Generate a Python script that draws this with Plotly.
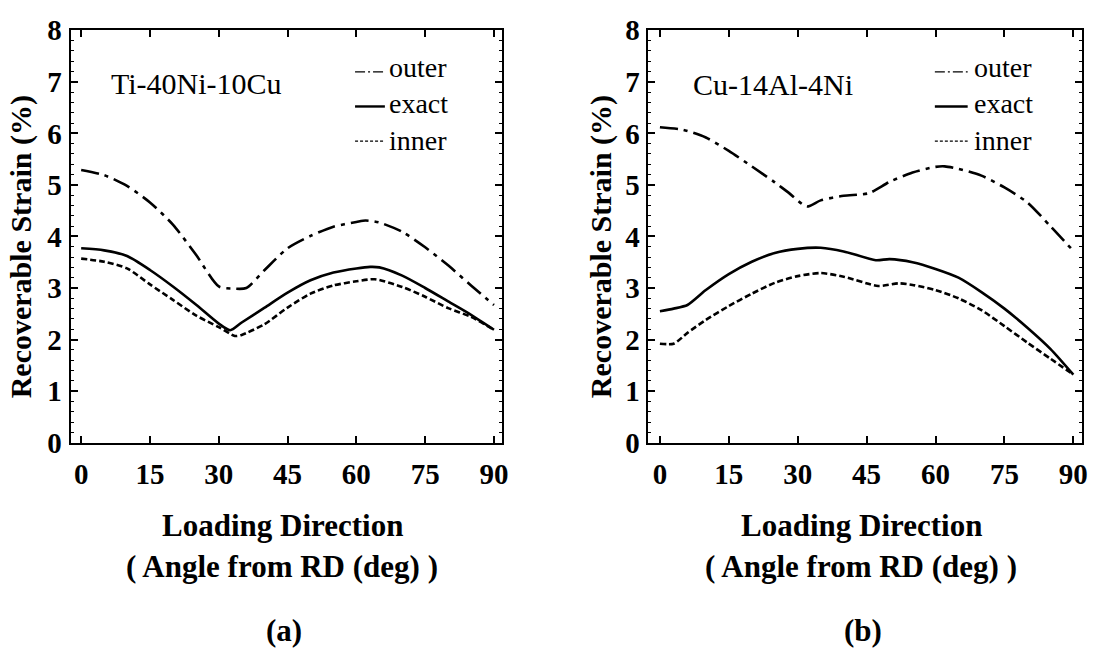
import plotly.graph_objects as go

# ---- data: recoverable strain (%) vs. loading direction (deg from RD) ----
angle_ti_outer = [0, 5, 10, 15, 20, 25, 30, 33, 36, 40, 45, 50, 55, 60, 62, 65, 70, 75, 80, 85, 90]
strain_ti_outer = [5.29, 5.19, 4.98, 4.66, 4.23, 3.65, 3.03, 2.99, 3.00, 3.35, 3.77, 4.01, 4.19, 4.28,
                   4.31, 4.27, 4.09, 3.79, 3.44, 3.05, 2.67]

angle_ti_exact = [0, 5, 10, 15, 20, 25, 30, 32.5, 35, 40, 45, 50, 55, 60, 63, 65, 70, 75, 80, 85, 90]
strain_ti_exact = [3.77, 3.73, 3.62, 3.35, 3.03, 2.68, 2.31, 2.18, 2.33, 2.62, 2.91, 3.15, 3.30, 3.38,
                   3.41, 3.40, 3.24, 3.00, 2.74, 2.48, 2.19]

angle_ti_inner = [0, 5, 10, 15, 20, 25, 30, 33.5, 35, 40, 45, 50, 55, 60, 64, 70, 75, 80, 85, 90]
strain_ti_inner = [3.57, 3.51, 3.38, 3.07, 2.77, 2.47, 2.24, 2.07, 2.09, 2.30, 2.62, 2.89, 3.05, 3.13,
                   3.17, 3.02, 2.83, 2.61, 2.44, 2.19]

angle_cu_outer = [0, 5, 10, 15, 20, 25, 28, 32, 35, 40, 45.5, 50, 55, 60, 62, 65, 70, 75, 80, 85, 90]
strain_cu_outer = [6.12, 6.07, 5.92, 5.66, 5.36, 5.05, 4.85, 4.58, 4.70, 4.79, 4.84, 5.06, 5.24, 5.35,
                   5.36, 5.31, 5.18, 4.95, 4.66, 4.20, 3.72]

angle_cu_exact = [0, 3, 6, 10, 15, 20, 25, 30, 35, 40, 47, 50, 55, 60, 65, 70, 75, 80, 85, 90]
strain_cu_exact = [2.55, 2.60, 2.67, 2.96, 3.27, 3.51, 3.68, 3.76, 3.78, 3.71, 3.54, 3.56, 3.50, 3.37,
                   3.20, 2.92, 2.60, 2.23, 1.82, 1.32]

angle_cu_inner = [0, 3, 6, 10, 15, 20, 25, 30, 35, 40, 47.5, 52, 55, 60, 65, 70, 75, 80, 85, 90]
strain_cu_inner = [1.92, 1.92, 2.13, 2.38, 2.65, 2.89, 3.10, 3.23, 3.29, 3.22, 3.04, 3.09, 3.06, 2.96,
                   2.80, 2.57, 2.26, 1.94, 1.63, 1.32]

x_ticks = [0, 15, 30, 45, 60, 75, 90]
y_ticks = [0, 1, 2, 3, 4, 5, 6, 7, 8]
legend_names = ["outer", "exact", "inner"]
alloys = ["Ti-40Ni-10Cu", "Cu-14Al-4Ni"]
panel_tags = ["(a)", "(b)"]

W, H = 1097, 671
SERIF = "Liberation Serif, Times New Roman, serif"

OUTER_DASH = "18px,6px,4px,6px"
INNER_DASH = "6px,3px"
styles = {
    "outer": dict(dash=OUTER_DASH, width=2.6),
    "exact": dict(dash="solid", width=2.6),
    "inner": dict(dash=INNER_DASH, width=2.6),
}


def px_x(p):
    return p / W


def px_y(p):
    return 1 - p / H


fig = go.Figure()

panels = [
    ("x", "y", [(angle_ti_outer, strain_ti_outer, "outer"),
                (angle_ti_exact, strain_ti_exact, "exact"),
                (angle_ti_inner, strain_ti_inner, "inner")]),
    ("x2", "y2", [(angle_cu_outer, strain_cu_outer, "outer"),
                  (angle_cu_exact, strain_cu_exact, "exact"),
                  (angle_cu_inner, strain_cu_inner, "inner")]),
]

for xa, ya, series in panels:
    for xs, ys, name in series:
        st = styles[name]
        fig.add_trace(go.Scatter(
            x=xs, y=ys, mode="lines", name=name, showlegend=False,
            xaxis=xa, yaxis=ya, hoverinfo="skip",
            line=dict(color="black", width=st["width"], dash=st["dash"],
                      shape="spline", smoothing=0.7),
        ))

# plot frames in pixels: (left, right) for each panel, shared top/bottom
frames = [(71, 505), (652, 1088)]
top_px, bot_px = 15, 448

axis_common = dict(
    showline=True, linewidth=2, linecolor="black", mirror="allticks",
    showgrid=False, zeroline=False, ticks="inside", ticklen=7, tickwidth=1.5,
    tickcolor="black", fixedrange=True, ticklabeloverflow="allow",
    tickfont=dict(family=SERIF, size=29, color="black", weight="bold"),
)

xranges = [[-2.3, 91.8], [-2.5, 91.9]]
for i, (l, r) in enumerate(frames):
    suffix = "" if i == 0 else "2"
    fig.update_layout(**{
        f"xaxis{suffix}": dict(
            axis_common, domain=[px_x(l), px_x(r)], range=xranges[i],
            tickvals=x_ticks, anchor=f"y{suffix}", ticklabelstandoff=5,
        ),
        f"yaxis{suffix}": dict(
            axis_common, domain=[px_y(bot_px), px_y(top_px)], range=[0, 8],
            tickvals=y_ticks, anchor=f"x{suffix}", ticklabelstandoff=1,
            minor=dict(dtick=0.2, ticks="inside", ticklen=3, tickwidth=1, tickcolor="black"),
        ),
    })

annotations = []
shapes = []

# alloy names inside each panel
alloy_pos = [(110, 71), (695, 72)]
for name, (ax, ay) in zip(alloys, alloy_pos):
    annotations.append(dict(
        text=name, xref="paper", yref="paper", x=px_x(ax), y=px_y(ay),
        xanchor="left", yanchor="middle", showarrow=False,
        font=dict(family=SERIF, size=30, color="black"),
    ))

# legend keys: line samples as shapes, labels as one stacked text block
LEG_FONT = 28
row_gap = LEG_FONT * 1.3
legend_cols = [(357, 387, 389), (940, 973, 977)]
mid_row = 95
legend_rows = [mid_row - row_gap, mid_row, mid_row + row_gap]
key_widths = {"outer": 1.2, "exact": 2.4, "inner": 1.2}
key_dash = {"outer": "10px,3px,2px,3px", "exact": "solid", "inner": "3px,2px"}
for x0, x1, xt in legend_cols:
    for name, yy in zip(legend_names, legend_rows):
        shapes.append(dict(
            type="line", xref="paper", yref="paper",
            x0=px_x(x0), x1=px_x(x1), y0=px_y(yy), y1=px_y(yy),
            line=dict(color="black", width=key_widths[name], dash=key_dash[name]),
        ))
    annotations.append(dict(
        text="<br>".join(legend_names), xref="paper", yref="paper",
        x=px_x(xt), y=px_y(mid_row - 3), align="left",
        xanchor="left", yanchor="middle", showarrow=False,
        font=dict(family=SERIF, size=LEG_FONT, color="black"),
    ))

# axis titles and panel tags
for (l, r), tag, ytx in zip(frames, panel_tags, [22, 605]):
    cx = (l + r) / 2
    annotations.append(dict(
        text="Recoverable Strain (%)", xref="paper", yref="paper",
        x=px_x(ytx), y=px_y(242), textangle=-90, showarrow=False,
        xanchor="center", yanchor="middle",
        font=dict(family=SERIF, size=30, color="black", weight="bold"),
    ))
    annotations.append(dict(
        text="Loading Direction", xref="paper", yref="paper",
        x=px_x(cx - 4), y=px_y(535), showarrow=False,
        xanchor="center", yanchor="middle",
        font=dict(family=SERIF, size=31, color="black", weight="bold"),
    ))
    annotations.append(dict(
        text="( Angle from RD (deg) )", xref="paper", yref="paper",
        x=px_x(cx - 4), y=px_y(578), showarrow=False,
        xanchor="center", yanchor="middle",
        font=dict(family=SERIF, size=31, color="black", weight="bold"),
    ))
    annotations.append(dict(
        text=tag, xref="paper", yref="paper",
        x=px_x(cx - 2), y=px_y(645), showarrow=False,
        xanchor="center", yanchor="middle",
        font=dict(family=SERIF, size=31, color="black", weight="bold"),
    ))

fig.update_layout(
    width=W, height=H, autosize=False,
    margin=dict(l=0, r=0, t=0, b=0),
    paper_bgcolor="white", plot_bgcolor="white",
    showlegend=False,
    annotations=annotations, shapes=shapes,
)

fig.write_html("out.html", config={"displayModeBar": False})
